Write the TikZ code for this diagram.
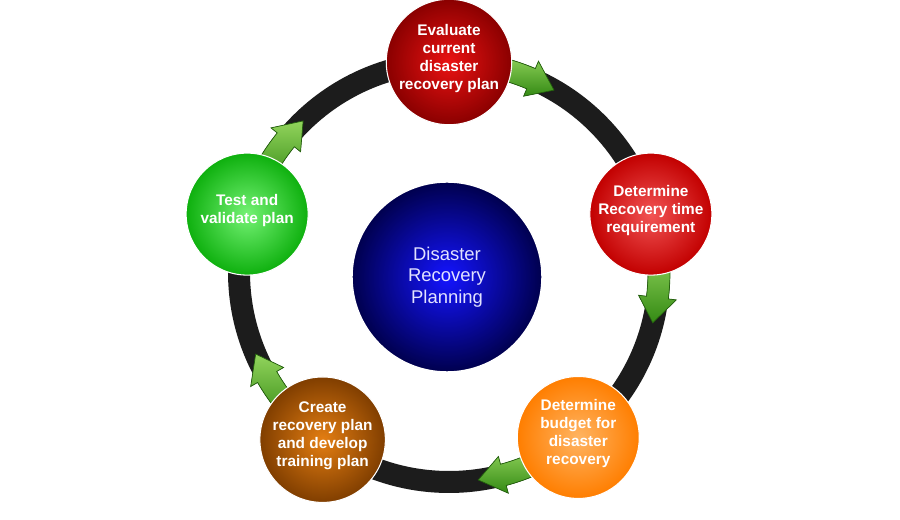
\documentclass[tikz,border=0pt]{standalone}
\usepackage{fontspec}
\setmainfont{Liberation Sans}
\usetikzlibrary{positioning,calc}
\definecolor{RingBlack}{RGB}{28,28,28}
\definecolor{ArrowLight}{RGB}{146,212,92}
\definecolor{ArrowDark}{RGB}{52,138,20}
\definecolor{EvalOuter}{RGB}{138,0,0}
\definecolor{EvalInner}{RGB}{234,18,18}
\definecolor{TimeOuter}{RGB}{194,0,0}
\definecolor{TimeInner}{RGB}{242,84,84}
\definecolor{BudgetOuter}{RGB}{255,126,0}
\definecolor{BudgetInner}{RGB}{255,180,98}
\definecolor{CreateOuter}{RGB}{128,62,0}
\definecolor{CreateInner}{RGB}{228,126,18}
\definecolor{TestOuter}{RGB}{14,176,14}
\definecolor{TestInner}{RGB}{116,242,116}
\definecolor{CoreOuter}{RGB}{0,0,78}
\definecolor{CoreInner}{RGB}{20,20,255}
\definecolor{CoreText}{RGB}{226,226,255}

\begin{document}
\begin{tikzpicture}[x=0.02cm, y=0.02cm, every node/.style={align=center},
  stage/.style={circle, minimum size=2.44cm, inner sep=0pt, draw=white, line width=0.6pt,
                text=white, font=\fontsize{8.75}{10.25}\selectfont\bfseries,
                execute at end node={\rule[-6.2pt]{0pt}{0pt}}},
  turn/.style={top color=ArrowLight, bottom color=ArrowDark, draw=ArrowDark!70!black, line width=0.4pt}]
  \fill[white] (0,0) rectangle (900,520);
  \useasboundingbox (0,0) rectangle (900,520);
  \coordinate (hub) at (449,248);
  \draw[RingBlack, line width=0.44cm] (hub) circle[radius=210];
  \foreach \a in {90,16,-52,-127,164}
    \filldraw[turn] ($(hub)+(\a-10:221)$) arc[start angle=\a-10, end angle=\a-23, radius=221]
      -- ($(hub)+(\a-23:229)$) -- ($(hub)+(\a-30:210)$) -- ($(hub)+(\a-23:191)$)
      -- ($(hub)+(\a-23:199)$) arc[start angle=\a-23, end angle=\a-10, radius=199] -- cycle;
  \node[stage, inner color=EvalInner, outer color=EvalOuter] (evaluate) at ($(hub)+(90:210)$)
    {Evaluate\\current\\disaster\\recovery plan};
  \node[stage, inner color=TimeInner, outer color=TimeOuter] (rto) at ($(hub)+(16:210)$)
    {Determine\\Recovery time\\requirement};
  \node[stage, inner color=BudgetInner, outer color=BudgetOuter] (budget) at ($(hub)+(-52:210)$)
    {Determine\\budget for\\disaster\\recovery};
  \node[stage, inner color=CreateInner, outer color=CreateOuter] (create) at ($(hub)+(-127:210)$)
    {Create\\recovery plan\\and develop\\training plan};
  \node[stage, inner color=TestInner, outer color=TestOuter] (test) at ($(hub)+(164:210)$)
    {Test and\\validate plan};
  \node[circle, minimum size=3.8cm, inner sep=0pt, inner color=CoreInner, outer color=CoreOuter,
        draw=white, line width=0.8pt, text=CoreText, font=\fontsize{10.5}{12.35}\selectfont] (core) at (447,243)
    {Disaster\\Recovery\\Planning};
\end{tikzpicture}
\end{document}
